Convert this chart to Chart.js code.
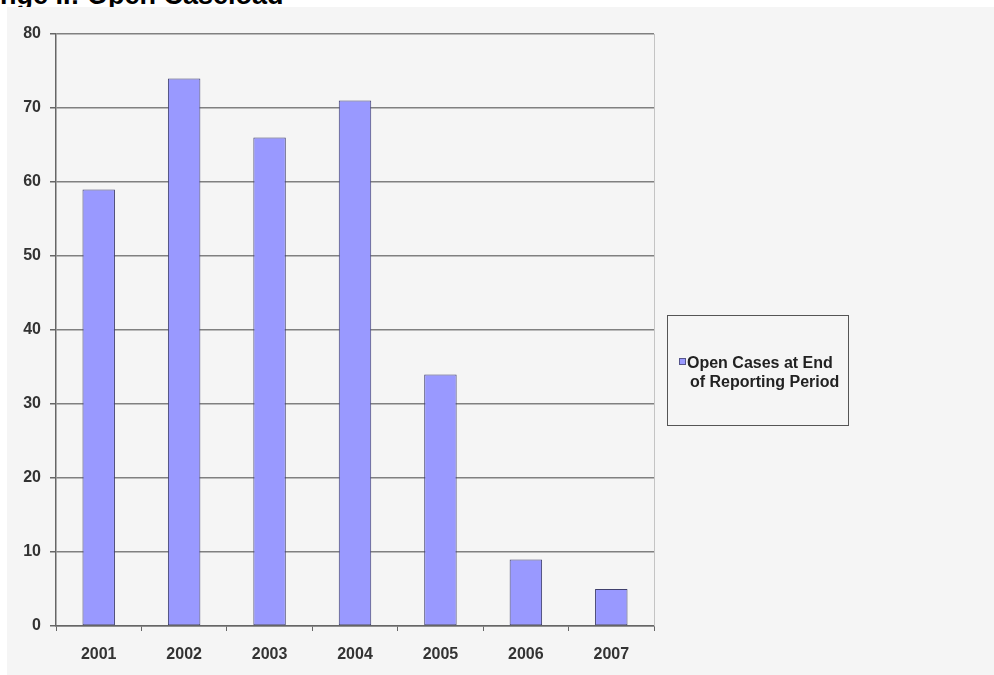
<!DOCTYPE html>
<html>
<head>
<meta charset="utf-8">
<script src="https://cdn.jsdelivr.net/npm/chart.js@4.4.1/dist/chart.umd.min.js"></script>
<style>
  html, body { margin: 0; padding: 0; background: #fff; overflow: hidden; }
  #title {
    position: absolute; left: 0; top: -20px;
    font: bold 27px "Liberation Sans", Arial, sans-serif; color: #000;
    white-space: nowrap;
  }
  #wrap {
    position: absolute; left: 7px; top: 7px; width: 987px; height: 668px;
    background: #f5f5f5;
  }
</style>
</head>
<body>
<div id="title">nge II: Open Caseload</div>
<div id="wrap"><canvas id="c" width="987" height="668"></canvas></div>
<script>
const years = ['2001', '2002', '2003', '2004', '2005', '2006', '2007'];
const openCases = [59, 74, 66, 71, 34, 9, 5];
const seriesName = ['Open Cases at End', 'of Reporting Period'];

const FONT = '"Liberation Sans", Arial, sans-serif';

// legend box + right frame line, drawn after the chart
const boxLegend = {
  id: 'boxLegend',
  afterDraw(chart) {
    const { ctx, chartArea } = chart;
    ctx.save();
    // light right border of the plot
    ctx.strokeStyle = '#c4c4c4';
    ctx.lineWidth = 1;
    ctx.beginPath();
    ctx.moveTo(chartArea.right + 0.5, chartArea.top);
    ctx.lineTo(chartArea.right + 0.5, chartArea.bottom);
    ctx.stroke();

    const x = 660, y = 308, w = 181, h = 110;
    ctx.strokeStyle = '#555';
    ctx.strokeRect(x + 0.5, y + 0.5, w, h);

    ctx.fillStyle = '#9999ff';
    ctx.fillRect(x + 12, y + 43, 7, 7);
    ctx.strokeStyle = '#55558a';
    ctx.strokeRect(x + 12.5, y + 43.5, 6, 6);

    ctx.fillStyle = '#222';
    ctx.font = 'bold 16px ' + FONT;
    ctx.textBaseline = 'middle';
    ctx.fillText(seriesName[0], x + 20, y + 49);
    ctx.fillText(seriesName[1], x + 23, y + 68);
    ctx.restore();
  }
};

new Chart(document.getElementById('c'), {
  type: 'bar',
  data: {
    labels: years,
    datasets: [{
      label: seriesName.join(' '),
      data: openCases,
      backgroundColor: '#9999ff',
      borderColor: '#40406e',
      borderWidth: 1,
      borderSkipped: false,
      barPercentage: 0.38,
      categoryPercentage: 1
    }]
  },
  options: {
    responsive: false,
    animation: false,
    layout: { padding: { top: 27, right: 340, bottom: 9, left: 0 } },
    plugins: {
      legend: { display: false },
      tooltip: { enabled: false }
    },
    scales: {
      x: {
        afterFit: s => { s.height = 40; },
        grid: {
          offset: true,
          drawOnChartArea: false,
          drawTicks: true,
          tickLength: 5,
          color: '#666'
        },
        border: { color: '#666', width: 1.5 },
        ticks: {
          color: '#333',
          font: { family: FONT, size: 16, weight: 'bold' },
          padding: 14
        }
      },
      y: {
        min: 0,
        max: 80,
        afterFit: s => { s.width = 49; },
        grid: {
          color: '#808080',
          lineWidth: 1.5,
          tickLength: 6,
          tickColor: '#666'
        },
        border: { color: '#666', width: 1.5 },
        ticks: {
          stepSize: 10,
          color: '#333',
          font: { family: FONT, size: 16, weight: 'bold' },
          padding: 9
        }
      }
    }
  },
  plugins: [boxLegend]
});
</script>
</body>
</html>
